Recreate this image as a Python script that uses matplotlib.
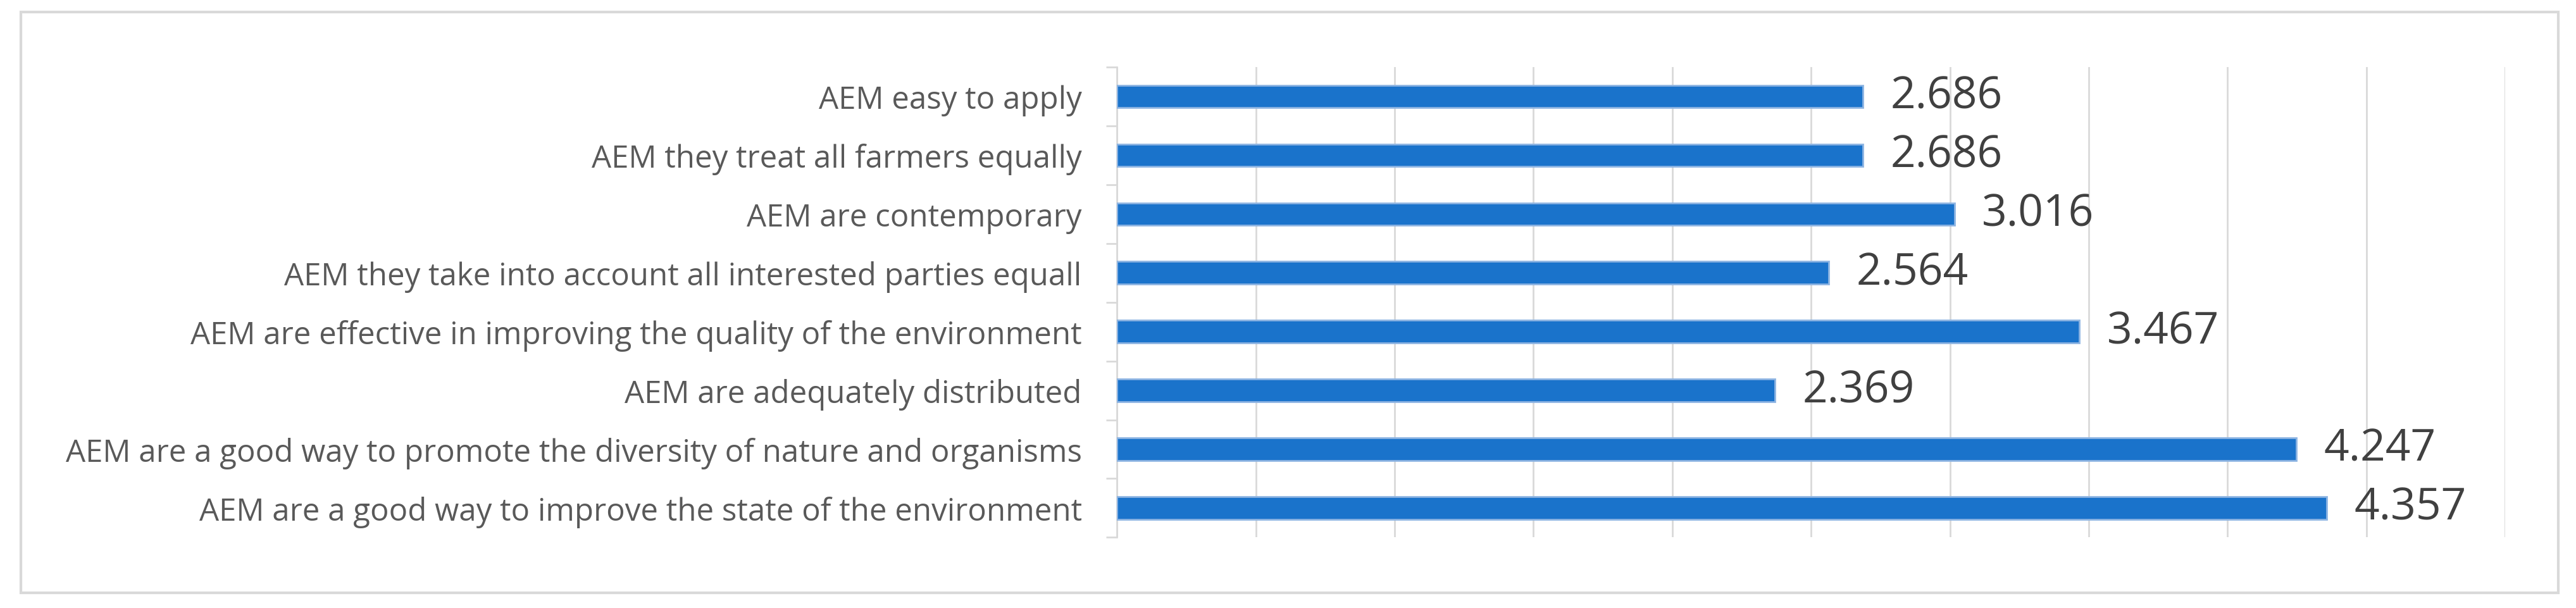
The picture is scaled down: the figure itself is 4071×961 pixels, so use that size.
import matplotlib.pyplot as plt
import numpy as np
from matplotlib.patches import Rectangle

categories = ["AEM easy to apply",
              "AEM they treat all farmers equally",
              "AEM are contemporary",
              "AEM they take into account all interested parties equall",
              "AEM are effective in improving the quality of the environment",
              "AEM are adequately distributed",
              "AEM are a good way to promote the diversity of nature and organisms",
              "AEM are a good way to improve the state of the environment"]
values = [2.686, 2.686, 3.016, 2.564, 3.467, 2.369, 4.247, 4.357]

plt.rcParams['font.family'] = ['Open Sans', 'DejaVu Sans']

fig = plt.figure(figsize=(40.71, 9.62), dpi=100)
# outer chart frame, kept behind the axes
fig.patches.append(Rectangle((0.008, 0.025), 0.985, 0.954, transform=fig.transFigure,
                             facecolor='white', edgecolor='#D9D9D9', linewidth=3, zorder=-10))

ax = fig.add_axes([0.4336, 0.116, 0.5389, 0.773])
ax.set_zorder(5)
ax.patch.set_alpha(0)
y = np.arange(len(categories))
bars = ax.barh(y, values, height=0.38, color='#1A73CB', edgecolor='#8DB4E2', linewidth=2, zorder=3)

for yi, v in zip(y, values):
    ax.text(v + 0.1, yi, f'{v:.3f}', va='center', ha='left', fontsize=50, color='#404040')

ax.set_xlim(0, 5)
ax.set_ylim(len(categories) - 0.5, -0.5)
ax.set_xticks(np.arange(0, 5.01, 0.5))
ax.set_xticklabels([])
ax.tick_params(axis='x', length=0)
ax.grid(axis='x', color='#D9D9D9', linewidth=2, zorder=0)

ax.set_yticks(y)
ax.set_yticklabels(categories, fontsize=35.5, color='#595959')
ax.tick_params(axis='y', length=0, pad=40)
ax.set_yticks(np.arange(-0.5, len(categories), 1), minor=True)
ax.tick_params(axis='y', which='minor', length=12, width=2, color='#D9D9D9')

for s in ['top', 'right', 'bottom']:
    ax.spines[s].set_visible(False)
ax.spines['left'].set_color('#D9D9D9')
ax.spines['left'].set_linewidth(2)

plt.savefig('out.png', dpi=100)
